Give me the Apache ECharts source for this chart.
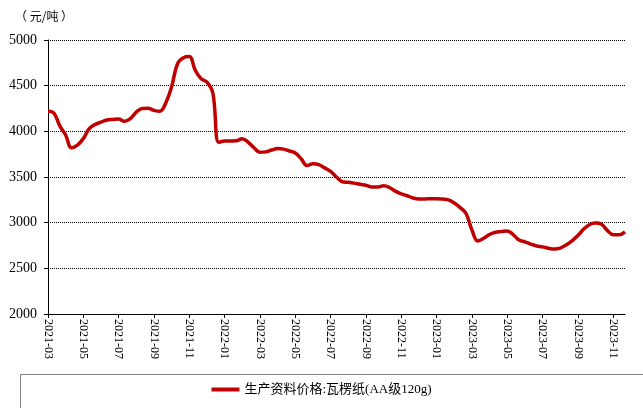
<!DOCTYPE html>
<html>
<head>
<meta charset="utf-8">
<script src="https://cdn.jsdelivr.net/npm/echarts@6/dist/echarts.min.js"></script>
<style>
  html, body { margin: 0; padding: 0; background: #fff; }
  #chart { width: 643px; height: 408px; }
</style>
</head>
<body>
<div id="chart"></div>
<script>
// 月份（每月分上、中、下三旬）
const months = [
  '2021-03', '2021-04', '2021-05', '2021-06', '2021-07', '2021-08', '2021-09', '2021-10', '2021-11', '2021-12',
  '2022-01', '2022-02', '2022-03', '2022-04', '2022-05', '2022-06', '2022-07', '2022-08', '2022-09', '2022-10',
  '2022-11', '2022-12', '2023-01', '2023-02', '2023-03', '2023-04', '2023-05', '2023-06', '2023-07', '2023-08',
  '2023-09', '2023-10', '2023-11'
]
const periods = ['上旬', '中旬', '下旬']

// 瓦楞纸价格（元/吨）
const priceValues = [
  4220, 4200, 4060, 3960, 3820, 3850, 3920, 4030, 4075, 4100,
  4125, 4130, 4135, 4110, 4140, 4210, 4250, 4252, 4230, 4220,
  4310, 4490, 4740, 4805, 4818, 4670, 4575, 4540, 4420, 3880,
  3893, 3895, 3897, 3920, 3880, 3820, 3770, 3775, 3795, 3812,
  3805, 3785, 3762, 3700, 3625, 3645, 3635, 3600, 3562, 3500,
  3448, 3442, 3433, 3420, 3410, 3390, 3390, 3403, 3385, 3345,
  3315, 3295, 3270, 3260, 3260, 3262, 3262, 3258, 3250, 3215,
  3165, 3100, 2920, 2800, 2830, 2870, 2895, 2902, 2910, 2870,
  2810, 2790, 2765, 2745, 2735, 2720, 2712, 2722, 2755, 2800,
  2860, 2930, 2980, 2995, 2982, 2915, 2868, 2868, 2900
]

const seriesName = '生产资料价格:瓦楞纸(AA级120g)'

const categories = []
months.forEach(m => periods.forEach(p => categories.push(m + p)))

const serif = 'Liberation Serif, Times New Roman, Noto Sans CJK SC, serif'

const chart = echarts.init(document.getElementById('chart'))

const option = {
  animation: false,
  title: {
    text: '（ 元/吨 ）',
    left: 10,
    top: 5,
    textStyle: {
      fontFamily: 'Noto Sans CJK SC',
      fontSize: 12,
      fontWeight: 'normal',
      color: '#000'
    }
  },
  graphic: [
    {
      type: 'rect',
      left: 18,
      top: 372,
      shape: { width: 640, height: 35 },
      style: { fill: 'none', stroke: '#808080', lineWidth: 1 }
    }
  ],
  legend: {
    data: [seriesName],
    bottom: 7,
    left: 'center',
    icon: 'rect',
    itemWidth: 28,
    itemHeight: 4,
    itemGap: 4,
    textStyle: {
      fontFamily: serif,
      fontSize: 13,
      color: '#000'
    }
  },
  grid: {
    left: 48,
    right: 18,
    top: 40,
    bottom: 94,
    containLabel: false
  },
  xAxis: {
    type: 'category',
    boundaryGap: false,
    data: categories,
    axisLine: { lineStyle: { color: '#000', width: 1 } },
    axisTick: {
      show: true,
      interval: (idx) => idx % 6 === 0,
      length: 4,
      lineStyle: { color: '#000' }
    },
    axisLabel: {
      interval: (idx) => idx % 6 === 0,
      rotate: -90,
      margin: 5,
      color: '#000',
      fontFamily: serif,
      fontSize: 12,
      formatter: (v) => v.slice(0, 7)
    },
    splitLine: { show: false }
  },
  yAxis: {
    type: 'value',
    min: 2000,
    max: 5000,
    interval: 500,
    axisLine: { show: true, lineStyle: { color: '#000', width: 1 } },
    axisTick: { show: true, length: 4, lineStyle: { color: '#000' } },
    axisLabel: {
      color: '#000',
      fontFamily: serif,
      fontSize: 14,
      margin: 11,
      formatter: (v) => String(v)
    },
    splitLine: {
      lineStyle: { color: '#000', type: [1, 1], width: 1 }
    }
  },
  series: [
    {
      name: seriesName,
      type: 'line',
      data: priceValues,
      smooth: 0.4,
      showSymbol: false,
      symbol: 'none',
      lineStyle: { color: '#C00000', width: 3.5 },
      itemStyle: { color: '#C00000' }
    }
  ]
}

chart.setOption(option)
</script>
</body>
</html>
